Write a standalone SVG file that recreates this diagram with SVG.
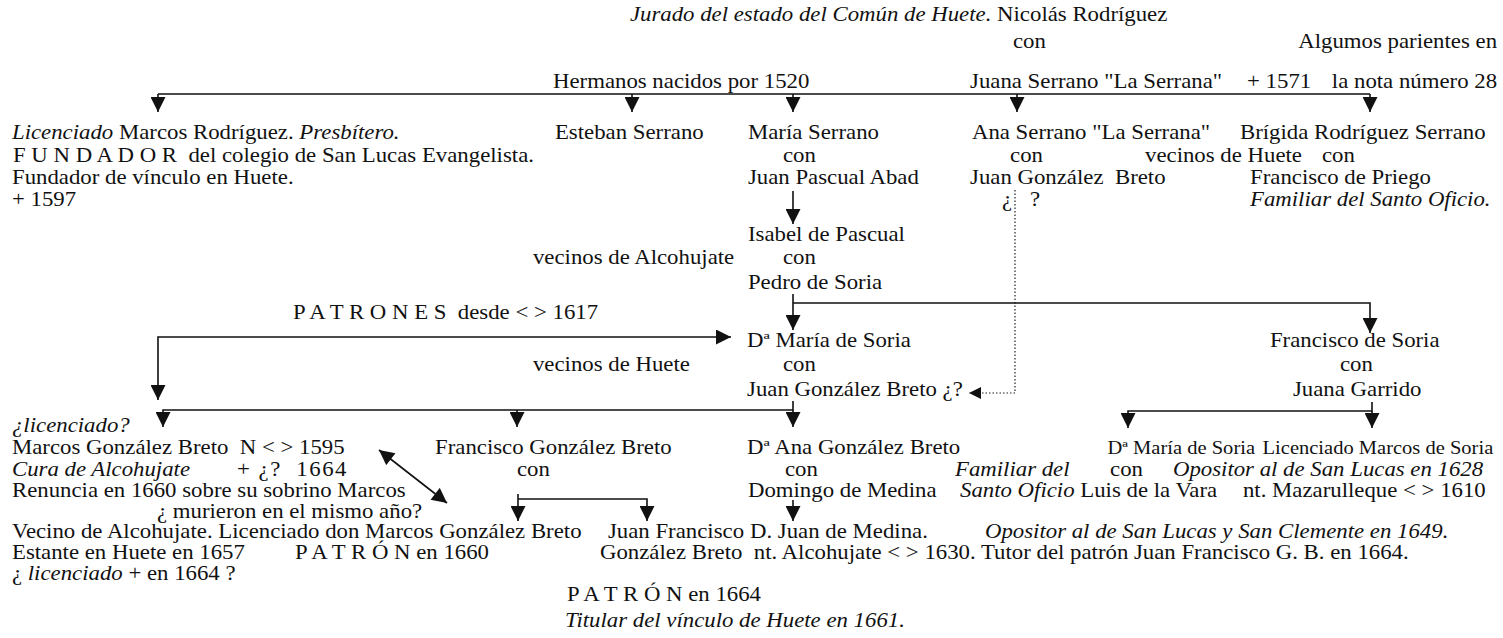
<svg xmlns="http://www.w3.org/2000/svg" width="1503" height="638" viewBox="0 0 1503 638">
<style>
text { font-family: "Liberation Serif", "Times New Roman", serif; font-size: 20px; fill: #111; white-space: pre; }
.i { font-style: italic; }
.e { text-anchor: end; }
.s { font-size: 18px; }
.ln { fill: none; stroke: #111; stroke-width: 1.6; }
.dot { fill: none; stroke: #222; stroke-width: 1.2; stroke-dasharray: 1.5 2; }
</style>
<defs>
<marker id="ah" viewBox="0 0 10 10" refX="10" refY="5" markerUnits="userSpaceOnUse" markerWidth="17" markerHeight="15" orient="auto-start-reverse"><path d="M0,0 L10,5 L0,10 z" fill="#111"/></marker>
<marker id="ahs" viewBox="0 0 10 10" refX="10" refY="5" markerUnits="userSpaceOnUse" markerWidth="15" markerHeight="12" orient="auto-start-reverse"><path d="M0,0 L10,5 L0,10 z" fill="#111"/></marker>
</defs>

<g id="connectors">
<path class="ln" d="M158,94 H1370"/>
<path class="ln" d="M158,94 V112" marker-end="url(#ah)"/>
<path class="ln" d="M632,94 V112" marker-end="url(#ah)"/>
<path class="ln" d="M793,94 V112" marker-end="url(#ah)"/>
<path class="ln" d="M1017,94 V112" marker-end="url(#ah)"/>
<path class="ln" d="M1370,94 V112" marker-end="url(#ah)"/>
<path class="ln" d="M793,191 V224" marker-end="url(#ah)"/>
<path class="dot" d="M1015,190 V393 H969" marker-end="url(#ahs)"/>
<path class="ln" d="M793,294 V330" marker-end="url(#ah)"/>
<path class="ln" d="M793,303 H1370 V333" marker-end="url(#ah)"/>
<path class="ln" d="M731,337 H158 V400" marker-start="url(#ah)" marker-end="url(#ah)"/>
<path class="ln" d="M793,401 V410 H163 V427" marker-end="url(#ah)"/>
<path class="ln" d="M517,410 V427" marker-end="url(#ah)"/>
<path class="ln" d="M793,410 V427" marker-end="url(#ah)"/>
<path class="ln" d="M1372,402 V411 H1128 V428" marker-end="url(#ah)"/>
<path class="ln" d="M1372,411 V428" marker-end="url(#ah)"/>
<path class="ln" d="M379,450 L447,503" marker-start="url(#ah)" marker-end="url(#ah)"/>
<path class="ln" d="M518,494 V521" marker-end="url(#ah)"/>
<path class="ln" d="M518,499 H647 V521" marker-end="url(#ah)"/>
<path class="ln" d="M793,500 V521" marker-end="url(#ah)"/>
</g>

<g id="nodes" transform="scale(1.14 1)">
<g id="n-nicolas">
<text x="552.6" y="21"><tspan class="i">Jurado del estado del Común de Huete.</tspan> Nicolás Rodríguez</text>
<text x="888.6" y="48">con</text>
<text x="850.9" y="88">Juana Serrano "La Serrana"</text>
<text x="1093.9" y="88">+ 1571</text>
</g>
<g id="n-parientes">
<text class="e" x="1313.2" y="48">Algumos parientes en</text>
<text class="e" x="1313.2" y="88">la nota número 28</text>
</g>
<g id="n-hermanos"><text x="485.1" y="88">Hermanos nacidos por 1520</text></g>

<g id="n-marcos-rodriguez">
<text x="10.5" y="139"><tspan class="i">Licenciado</tspan> Marcos Rodríguez. <tspan class="i">Presbítero.</tspan></text>
<text x="11.4" y="162">F U N D A D O R  del colegio de San Lucas Evangelista.</text>
<text x="10.5" y="184">Fundador de vínculo en Huete.</text>
<text x="10.5" y="206">+ 1597</text>
</g>
<g id="n-esteban"><text x="486.8" y="139">Esteban Serrano</text></g>
<g id="n-maria-serrano">
<text x="656.1" y="139">María Serrano</text>
<text x="686.8" y="162">con</text>
<text x="656.1" y="184">Juan Pascual Abad</text>
</g>
<g id="n-ana-serrano">
<text x="852.6" y="139">Ana Serrano "La Serrana"</text>
<text x="886" y="162">con</text>
<text x="850.9" y="184">Juan González  Breto</text>
<text x="878.9" y="206">¿</text>
<text x="903.5" y="206">?</text>
</g>
<g id="n-brigida">
<text x="1087.7" y="139">Brígida Rodríguez Serrano</text>
<text x="1004.4" y="162">vecinos de Huete</text>
<text x="1159.6" y="162">con</text>
<text x="1096.5" y="184">Francisco de Priego</text>
<text x="1096.5" y="206" class="i">Familiar del Santo Oficio.</text>
</g>

<g id="n-isabel">
<text x="656.1" y="241">Isabel de Pascual</text>
<text x="467.5" y="264">vecinos de Alcohujate</text>
<text x="686.8" y="264">con</text>
<text x="656.1" y="289">Pedro de Soria</text>
</g>
<g id="n-patrones"><text x="257" y="319">P A T R O N E S  desde &lt; &gt; 1617</text></g>

<g id="n-maria-soria">
<text x="655.3" y="347">Dª María de Soria</text>
<text x="467.5" y="371">vecinos de Huete</text>
<text x="686.8" y="371">con</text>
<text x="655.3" y="396">Juan González Breto ¿?</text>
</g>
<g id="n-francisco-soria">
<text x="1114" y="347">Francisco de Soria</text>
<text x="1175.4" y="371">con</text>
<text x="1134.2" y="396">Juana Garrido</text>
</g>

<g id="n-marcos-gb">
<text x="10.5" y="432" class="i">¿licenciado?</text>
<text x="10.5" y="454">Marcos González Breto  N &lt; &gt; 1595</text>
<text x="10.5" y="476" class="i">Cura de Alcohujate</text>
<text x="207.9" y="476" textLength="96" lengthAdjust="spacing">+ ¿?  1664</text>
<text x="10.5" y="497">Renuncia en 1660 sobre su sobrino Marcos</text>
<text x="137.7" y="518">¿ murieron en el mismo año?</text>
</g>
<g id="n-francisco-gb">
<text x="381.6" y="454">Francisco González Breto</text>
<text x="453.5" y="476">con</text>
</g>
<g id="n-ana-gb">
<text x="655.3" y="454">Dª Ana González Breto</text>
<text x="688.6" y="476">con</text>
<text x="656.1" y="497">Domingo de Medina</text>
</g>
<g id="n-maria-soria-2">
<text x="971.5" y="454" class="s">Dª María de Soria</text>
<text x="837.7" y="476" class="i">Familiar del</text>
<text x="973.7" y="476">con</text>
<text x="842.1" y="497"><tspan class="i">Santo Oficio</tspan> Luis de la Vara</text>
</g>
<g id="n-marcos-soria">
<text x="1107.5" y="454" class="s">Licenciado Marcos de Soria</text>
<text x="1028.9" y="476" class="i">Opositor al de San Lucas en 1628</text>
<text x="1090.3" y="497">nt. Mazarulleque &lt; &gt; 1610</text>
</g>

<g id="n-marcos-patron">
<text x="10.5" y="538">Vecino de Alcohujate. Licenciado don Marcos González Breto</text>
<text x="10.5" y="559">Estante en Huete en 1657</text>
<text x="258.8" y="559">P A T R Ó N en 1660</text>
<text x="10.5" y="580">¿ <tspan class="i">licenciado</tspan> + en 1664 ?</text>
</g>
<g id="n-juan-francisco">
<text x="533.3" y="538">Juan Francisco</text>
<text x="526.3" y="559">González Breto  nt. Alcohujate &lt; &gt; 1630. Tutor del patrón Juan Francisco G. B. en 1664.</text>
<text x="497.4" y="601">P A T R Ó N en 1664</text>
<text x="495.6" y="627" class="i">Titular del vínculo de Huete en 1661.</text>
</g>
<g id="n-juan-medina">
<text x="657.9" y="538">D. Juan de Medina.</text>
<text x="864" y="538" class="i">Opositor al de San Lucas y San Clemente en 1649.</text>
</g>
</g>
</svg>
